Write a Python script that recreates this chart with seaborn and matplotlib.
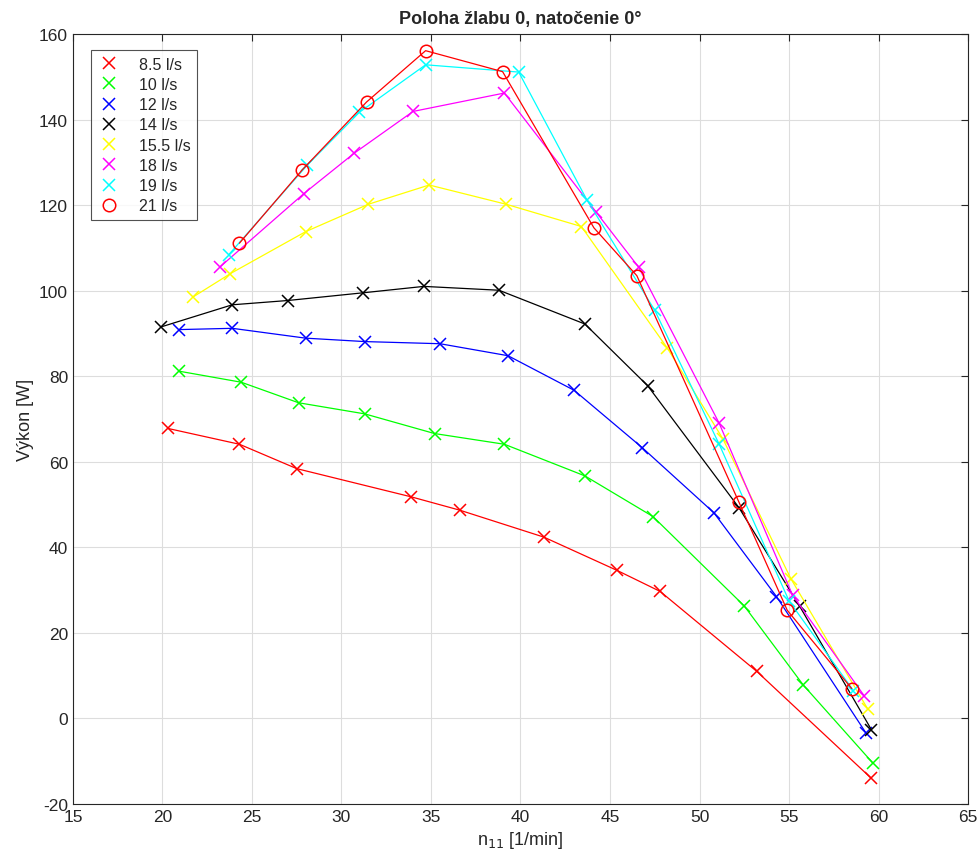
import matplotlib
matplotlib.use("Agg")
import matplotlib.pyplot as plt
from matplotlib.lines import Line2D
import pandas as pd
import seaborn as sns

labels = ["8.5 l/s", "10 l/s", "12 l/s", "14 l/s", "15.5 l/s", "18 l/s", "19 l/s", "21 l/s"]
colors = ["#ff0000", "#00ff00", "#0000ff", "#000000", "#ffff00", "#ff00ff", "#00ffff", "#ff0000"]
markers = ["x", "x", "x", "x", "x", "x", "x", "o"]

n11_85 = [20.3, 24.3, 27.5, 33.9, 36.6, 41.3, 45.4, 47.8, 53.2, 59.6]
p_85 = [67.8, 64.1, 58.4, 51.8, 48.7, 42.4, 34.6, 29.7, 11.0, -14.0]
n11_10 = [20.9, 24.4, 27.6, 31.3, 35.2, 39.1, 43.6, 47.4, 52.5, 55.8, 59.7]
p_10 = [81.2, 78.6, 73.8, 71.2, 66.6, 64.1, 56.7, 47.2, 26.3, 7.8, -10.5]
n11_12 = [20.9, 23.9, 28.0, 31.3, 35.5, 39.3, 43.0, 46.8, 50.8, 54.3, 59.3]
p_12 = [90.9, 91.2, 88.9, 88.1, 87.6, 84.8, 76.7, 63.3, 48.1, 28.5, -3.4]
n11_14 = [19.9, 23.9, 27.0, 31.2, 34.6, 38.8, 43.6, 47.1, 52.2, 55.6, 59.6]
p_14 = [91.5, 96.7, 97.7, 99.5, 101.0, 100.1, 92.2, 77.8, 49.3, 26.2, -2.6]
n11_155 = [21.7, 23.8, 28.0, 31.5, 34.9, 39.2, 43.4, 48.2, 51.3, 55.1, 59.4]
p_155 = [98.5, 104.0, 113.8, 120.2, 124.7, 120.2, 115.0, 86.6, 65.4, 32.7, 2.2]
n11_18 = [23.2, 27.9, 30.7, 34.0, 39.1, 44.2, 46.6, 51.1, 55.2, 59.2]
p_18 = [105.5, 122.7, 132.1, 141.9, 146.2, 118.5, 105.5, 69.0, 28.8, 5.3]
n11_19 = [23.7, 28.1, 31.0, 34.7, 39.9, 43.7, 47.5, 51.1, 55.0, 58.6]
p_19 = [108.4, 129.4, 141.7, 152.8, 151.1, 121.3, 95.4, 64.1, 27.5, 6.5]
n11_21 = [24.3, 27.8, 31.4, 34.7, 39.0, 44.1, 46.5, 52.2, 54.9, 58.5]
p_21 = [111.1, 128.2, 144.1, 156.1, 151.2, 114.7, 103.5, 50.6, 25.3, 7.0]

xs = [n11_85, n11_10, n11_12, n11_14, n11_155, n11_18, n11_19, n11_21]
ys = [p_85, p_10, p_12, p_14, p_155, p_18, p_19, p_21]

sns.set_style("white")
plt.rcParams["font.family"] = ["Liberation Sans", "DejaVu Sans"]
plt.rcParams["axes.unicode_minus"] = False

fig = plt.figure(figsize=(9.78, 8.62), dpi=100)
ax = fig.add_axes([0.0746, 0.0661, 0.9152, 0.8933])

handles = []
for x, y, c, m, lab in zip(xs, ys, colors, markers, labels):
    df = pd.DataFrame({"n11": x, "P": y})
    ms = 9 if m == "o" else 8
    sns.lineplot(data=df, x="n11", y="P", color=c, marker=m, markersize=ms,
                 markeredgewidth=1.1, markeredgecolor=c,
                 markerfacecolor="none" if m == "o" else c,
                 linewidth=0.9, sort=False, estimator=None, ax=ax, legend=False)
    handles.append(Line2D([], [], linestyle="none", marker=m, color=c,
                          markersize=ms, markeredgewidth=1.1,
                          markerfacecolor="none" if m == "o" else c))

ax.set_xlim(15, 65)
ax.set_ylim(-20, 160)
ax.set_xticks(range(15, 66, 5))
ax.set_yticks(range(-20, 161, 20))
ax.grid(True, color="#dddddd", linewidth=0.8)
ax.tick_params(direction="in", length=5, top=True, right=True, labelsize=12.5,
               colors="#262626", width=0.8)
for s in ax.spines.values():
    s.set_color("#262626")
    s.set_linewidth(0.8)

ax.set_xlabel("n$_{11}$ [1/min]", fontsize=13, color="#262626")
ax.set_ylabel("Výkon [W]", fontsize=13, color="#262626")
ax.set_title("Poloha žlabu 0, natočenie 0°", fontsize=13, fontweight="bold", pad=8)

leg = ax.legend(handles, labels, loc="upper left", bbox_to_anchor=(0.02, 0.979),
                borderaxespad=0, fontsize=11.5, frameon=True, fancybox=False,
                handlelength=1.5, handletextpad=1.1, borderpad=0.4, labelspacing=0.33)
leg.get_frame().set_edgecolor("#262626")
leg.get_frame().set_linewidth(0.8)

fig.savefig("out.png", dpi=100)
